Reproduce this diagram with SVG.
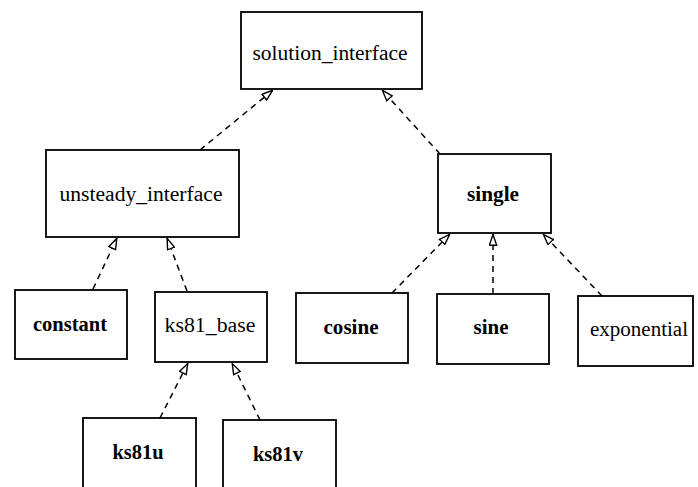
<svg xmlns="http://www.w3.org/2000/svg" width="698" height="487" viewBox="0 0 698 487">
<style>
.box{fill:#fff;stroke:#000;stroke-width:1.8}
.lbl{font-family:"Liberation Serif","Times New Roman",serif;font-size:20px;fill:#000;text-anchor:middle}
.b{font-weight:bold}
.edge{fill:none;stroke:#000;stroke-width:1.5;stroke-dasharray:6 5}
</style>
<defs>
<marker id="tri" viewBox="0 0 12 9" refX="12" refY="4.5" markerWidth="12" markerHeight="9" markerUnits="userSpaceOnUse" orient="auto">
<path d="M0.8,0.8 L11.4,4.5 L0.8,8.2 Z" fill="#fff" stroke="#000" stroke-width="1.4"/>
</marker>
</defs>
<rect width="698" height="487" fill="#fff"/>
<g id="connectors">
<path class="edge" d="M200,150 L273,90" marker-end="url(#tri)"/>
<path class="edge" d="M440,154 L382,90" marker-end="url(#tri)"/>
<path class="edge" d="M93,289 L117,238" marker-end="url(#tri)"/>
<path class="edge" d="M187,291 L167,238" marker-end="url(#tri)"/>
<path class="edge" d="M392,293 L450,234" marker-end="url(#tri)"/>
<path class="edge" d="M493,294 L493,234" marker-end="url(#tri)"/>
<path class="edge" d="M602,296 L543,234" marker-end="url(#tri)"/>
<path class="edge" d="M160,418 L188,363" marker-end="url(#tri)"/>
<path class="edge" d="M260,420 L232,363" marker-end="url(#tri)"/>
</g>
<g id="solution_interface">
<rect class="box" x="241" y="12" width="181" height="77"/>
<text class="lbl" x="330" y="60" textLength="155" lengthAdjust="spacingAndGlyphs">solution_interface</text>
</g>
<g id="unsteady_interface">
<rect class="box" x="46" y="150" width="193" height="87"/>
<text class="lbl" x="141" y="201" textLength="163" lengthAdjust="spacingAndGlyphs">unsteady_interface</text>
</g>
<g id="single">
<rect class="box" x="438" y="154" width="113" height="79"/>
<text class="lbl b" x="493" y="201" textLength="52" lengthAdjust="spacingAndGlyphs">single</text>
</g>
<g id="constant">
<rect class="box" x="15" y="290" width="112" height="69"/>
<text class="lbl b" x="70" y="331" textLength="74" lengthAdjust="spacingAndGlyphs">constant</text>
</g>
<g id="ks81_base">
<rect class="box" x="155" y="292" width="112" height="70"/>
<text class="lbl" x="210" y="332" textLength="91" lengthAdjust="spacingAndGlyphs">ks81_base</text>
</g>
<g id="cosine">
<rect class="box" x="296" y="293" width="112" height="70"/>
<text class="lbl b" x="351" y="334" textLength="55" lengthAdjust="spacingAndGlyphs">cosine</text>
</g>
<g id="sine">
<rect class="box" x="437" y="294" width="112" height="70"/>
<text class="lbl b" x="491" y="334" textLength="35" lengthAdjust="spacingAndGlyphs">sine</text>
</g>
<g id="exponential">
<rect class="box" x="578" y="296" width="115" height="70"/>
<text class="lbl" x="639" y="336" textLength="98" lengthAdjust="spacingAndGlyphs">exponential</text>
</g>
<g id="ks81u">
<rect class="box" x="83" y="418" width="113" height="80"/>
<text class="lbl b" x="138" y="459" textLength="51" lengthAdjust="spacingAndGlyphs">ks81u</text>
</g>
<g id="ks81v">
<rect class="box" x="223" y="420" width="113" height="80"/>
<text class="lbl b" x="278" y="461" textLength="50" lengthAdjust="spacingAndGlyphs">ks81v</text>
</g>
</svg>
